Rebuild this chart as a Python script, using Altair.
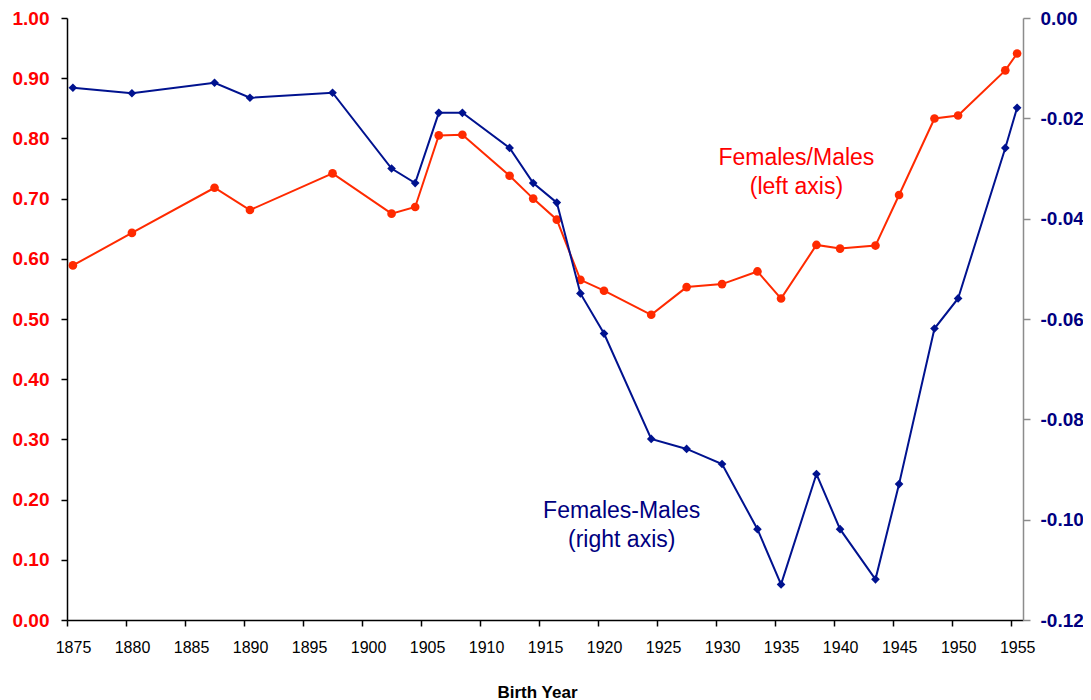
import altair as alt
import pandas as pd

# ---- data ----
years = [1875.5, 1880.5, 1887.5, 1890.5, 1897.5, 1902.5, 1904.5, 1906.5, 1908.5,
         1912.5, 1914.5, 1916.5, 1918.5, 1920.5, 1924.5, 1927.5, 1930.5, 1933.5,
         1935.5, 1938.5, 1940.5, 1943.5, 1945.5, 1948.5, 1950.5, 1954.5, 1955.5]
ratio = [0.589, 0.643, 0.718, 0.681, 0.742, 0.675, 0.686, 0.805, 0.806,
         0.738, 0.700, 0.665, 0.565, 0.547, 0.507, 0.553, 0.558, 0.579,
         0.534, 0.623, 0.617, 0.622, 0.706, 0.833, 0.838, 0.913, 0.941]
diff = [-0.0139, -0.0150, -0.0129, -0.0159, -0.0149, -0.0300, -0.0329, -0.0189, -0.0189,
        -0.0259, -0.0329, -0.0368, -0.0549, -0.0629, -0.0839, -0.0859, -0.0889, -0.1019,
        -0.1129, -0.0909, -0.1019, -0.1119, -0.0929, -0.0619, -0.0559, -0.0259, -0.0179]

x_ticks = list(range(1875, 1956, 5))
left_ticks = [0.0, 0.1, 0.2, 0.3, 0.4, 0.5, 0.6, 0.7, 0.8, 0.9, 1.0]
right_ticks = [-0.12, -0.10, -0.08, -0.06, -0.04, -0.02, 0.0]

red_label = ["Females/Males\n(left axis)"]
red_label_year = [1936.8]
red_label_val = [0.755]
blue_label = ["Females-Males\n(right axis)"]
blue_label_year = [1922.0]
blue_label_val = [-0.0996]

df = pd.DataFrame({"year": years, "ratio": ratio, "diff": diff})
df_red_lab = pd.DataFrame({"year": red_label_year, "ratio": red_label_val, "label": red_label})
df_blue_lab = pd.DataFrame({"year": blue_label_year, "diff": blue_label_val, "label": blue_label})

FONT = "Liberation Sans"
RED_LINE = "#FF2A00"
RED_TEXT = "#FF0000"
BLUE_LINE = "#00128F"
BLUE_TEXT = "#000080"

x_enc = alt.X(
    "year:Q",
    scale=alt.Scale(domain=[1875, 1956], nice=False, zero=False),
    axis=alt.Axis(
        values=x_ticks, format="d", grid=False,
        domainColor="black", domainWidth=1.5, tickColor="black", tickSize=6, tickWidth=1.5,
        labelFont=FONT, labelFontSize=16, labelColor="black",
        labelBaseline="alphabetic", labelPadding=26, labelOffset=6, labelFlush=False,
        title="Birth Year", titleFont=FONT, titleFontSize=17, titleFontWeight="bold",
        titleColor="black", titleX=470, titleY=77, titleBaseline="alphabetic",
        titleAnchor="start", titleAlign="center",
    ),
)

left_axis = alt.Axis(
    values=left_ticks, format=".2f", grid=False, title=None,
    domainColor="black", domainWidth=1.5, tickColor="black", tickSize=6, tickWidth=1.5,
    labelFont=FONT, labelFontSize=19, labelFontWeight="bold", labelColor=RED_TEXT,
    labelPadding=12, labelFlush=False,
)
right_axis = alt.Axis(
    orient="right", values=right_ticks, grid=False, title=None,
    labelExpr="replace(format(datum.value, '.2f'), '\u2212', '-')",
    domainColor="#8C8C8C", domainWidth=1.5, tickColor="#8C8C8C", tickSize=7, tickWidth=1.5,
    labelFont=FONT, labelFontSize=19, labelFontWeight="bold", labelColor=BLUE_TEXT,
    labelPadding=10, labelFlush=False,
)

y_left = alt.Y("ratio:Q", scale=alt.Scale(domain=[0, 1], nice=False, zero=False), axis=left_axis)
y_right = alt.Y("diff:Q", scale=alt.Scale(domain=[-0.12, 0], nice=False, zero=False), axis=right_axis)

red_line = alt.Chart(df).mark_line(color=RED_LINE, strokeWidth=2).encode(x=x_enc, y=y_left)
red_pts = alt.Chart(df).mark_point(shape="circle", filled=True, color=RED_LINE, size=75, opacity=1).encode(x=x_enc, y=y_left)
red_txt = alt.Chart(df_red_lab).mark_text(
    font=FONT, fontSize=23, color=RED_TEXT, align="center", baseline="alphabetic",
    lineBreak="\n", lineHeight=29,
).encode(x=x_enc, y=y_left, text="label:N")

blue_line = alt.Chart(df).mark_line(color=BLUE_LINE, strokeWidth=2).encode(x=x_enc, y=y_right)
blue_pts = alt.Chart(df).mark_point(shape="diamond", filled=True, color=BLUE_LINE, size=75, opacity=1).encode(x=x_enc, y=y_right)
blue_txt = alt.Chart(df_blue_lab).mark_text(
    font=FONT, fontSize=23, color=BLUE_TEXT, align="center", baseline="alphabetic",
    lineBreak="\n", lineHeight=29,
).encode(x=x_enc, y=y_right, text="label:N")

left_layer = alt.layer(red_line, red_pts, red_txt)
right_layer = alt.layer(blue_line, blue_pts, blue_txt)

chart = alt.layer(left_layer, right_layer).resolve_scale(y="independent").properties(
    width=956,
    height=602,
    autosize=alt.AutoSizeParams(type="none"),
    padding={"left": 59, "top": 10, "right": 60, "bottom": 82},
    background="white",
).configure_view(stroke=None)

chart.save("out.html", embed_options={"renderer": "svg", "actions": False})
